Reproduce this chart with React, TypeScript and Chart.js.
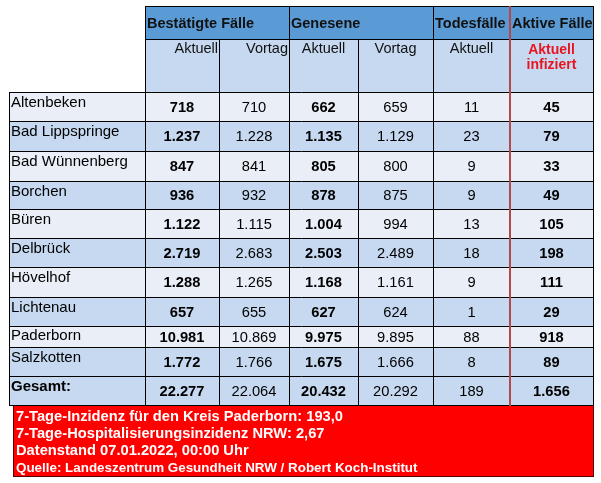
import React, { useEffect, useRef } from "react";
import { Chart, registerables } from "chart.js";
Chart.register(...registerables);

const municipalities = ["Altenbeken", "Bad Lippspringe", "Bad Wünnenberg", "Borchen", "Büren", "Delbrück", "Hövelhof", "Lichtenau", "Paderborn", "Salzkotten"];
const confirmedNow = [718, 1237, 847, 936, 1122, 2719, 1288, 657, 10981, 1772];
const confirmedPrev = [710, 1228, 841, 932, 1115, 2683, 1265, 655, 10869, 1766];
const recoveredNow = [662, 1135, 805, 878, 1004, 2503, 1168, 627, 9975, 1675];
const recoveredPrev = [659, 1129, 800, 875, 994, 2489, 1161, 624, 9895, 1666];
const deaths = [11, 23, 9, 9, 13, 18, 9, 1, 88, 8];
const activeNow = [45, 79, 33, 49, 105, 198, 111, 29, 918, 89];
const totalLabel = "Gesamt:";
const totals = [22277, 22064, 20432, 20292, 189, 1656];
const groupHeaders = ["Bestätigte Fälle", "Genesene", "Todesfälle", "Aktive Fälle"];
const subHeaders = ["Aktuell", "Vortag", "Aktuell", "Vortag", "Aktuell", "Aktuell|infiziert"];
const footerLines = [
  "7-Tage-Inzidenz für den Kreis Paderborn: 193,0",
  "7-Tage-Hospitalisierungsinzidenz NRW: 2,67",
  "Datenstand 07.01.2022, 00:00 Uhr",
  "Quelle: Landeszentrum Gesundheit NRW / Robert Koch-Institut",
];

// layout (scale units = pixels of the 601x483 canvas)
const COL_EDGES = [9, 145, 219, 289, 358, 433, 510, 593];
const HEAD_EDGES = [6, 39, 92];
const ROW_HEIGHTS = [29, 30, 30, 28, 29, 29, 30, 29, 21, 29, 29];
const FOOTER = { x0: 13, x1: 594, y0: 405, y1: 477 };
const FOOTER_BASELINES = [421, 438, 455, 472];
const BOLD_COLS = [true, false, true, false, false, true];
const FONT = '"Liberation Sans", Arial, sans-serif';

const fmt = (n: number) => String(n).replace(/\B(?=(\d{3})+(?!\d))/g, ".");

const tablePlugin = {
  id: "tablePlugin",
  afterDraw(chart: any) {
    const ctx = chart.ctx as CanvasRenderingContext2D;
    const sx = chart.scales.x;
    const sy = chart.scales.y;
    const X = (v: number) => sx.getPixelForValue(v);
    const Y = (v: number) => sy.getPixelForValue(v);
    const cx = COL_EDGES.map(X);
    const rowEdges = [HEAD_EDGES[2]];
    ROW_HEIGHTS.forEach((h) => rowEdges.push(rowEdges[rowEdges.length - 1] + h));
    const ry = rowEdges.map(Y);
    const hy = HEAD_EDGES.map(Y);
    const bottom = ry[ry.length - 1];
    const left = cx[0];
    const right = cx[cx.length - 1];
    const crisp = (v: number) => Math.round(v) + 0.5;

    ctx.save();
    // header fills
    ctx.fillStyle = "#5B9BD5";
    ctx.fillRect(cx[1], hy[0], right - cx[1], hy[1] - hy[0]);
    ctx.fillStyle = "#C6D9F1";
    ctx.fillRect(cx[1], hy[1], right - cx[1], hy[2] - hy[1]);

    // row fills
    const nRows = municipalities.length + 1;
    for (let i = 0; i < nRows; i++) {
      const blue = i === nRows - 1 || i % 2 === 1;
      ctx.fillStyle = blue ? "#C6D9F1" : "#E9EEF7";
      ctx.fillRect(left, ry[i], right - left, ry[i + 1] - ry[i]);
    }

    // footer
    ctx.fillStyle = "#FF0000";
    ctx.fillRect(X(FOOTER.x0), Y(FOOTER.y0), X(FOOTER.x1) - X(FOOTER.x0), Y(FOOTER.y1) - Y(FOOTER.y0));
    ctx.strokeStyle = "#5a0000";
    ctx.lineWidth = 1;
    ctx.strokeRect(crisp(X(FOOTER.x0)), crisp(Y(FOOTER.y0)), Math.round(X(FOOTER.x1) - X(FOOTER.x0)) - 1, Math.round(Y(FOOTER.y1) - Y(FOOTER.y0)) - 1);

    // grid lines
    ctx.strokeStyle = "#000";
    ctx.lineWidth = 1;
    const hline = (y: number, x0: number, x1: number) => {
      ctx.beginPath();
      ctx.moveTo(x0, crisp(y));
      ctx.lineTo(x1, crisp(y));
      ctx.stroke();
    };
    const vline = (x: number, y0: number, y1: number) => {
      ctx.beginPath();
      ctx.moveTo(crisp(x), y0);
      ctx.lineTo(crisp(x), y1);
      ctx.stroke();
    };
    hline(hy[0], cx[1], right + 1);
    hline(hy[1], cx[1], right + 1);
    ry.forEach((y) => hline(y, left, right + 1));
    vline(left, ry[0], bottom + 1);
    vline(cx[1], hy[0], bottom + 1);
    vline(cx[2], hy[1], bottom + 1);
    vline(cx[3], hy[0], bottom + 1);
    vline(cx[4], hy[1], bottom + 1);
    vline(cx[5], hy[0], bottom + 1);
    vline(right, hy[0], bottom + 1);
    ctx.strokeStyle = "#B5484A";
    ctx.lineWidth = 2;
    ctx.beginPath();
    ctx.moveTo(Math.round(cx[6]), hy[0]);
    ctx.lineTo(Math.round(cx[6]), bottom + 1);
    ctx.stroke();

    // group headers
    ctx.fillStyle = "#111";
    ctx.textBaseline = "alphabetic";
    ctx.textAlign = "left";
    ctx.font = `bold 14.5px ${FONT}`;
    const groupStarts = [cx[1], cx[3], cx[5], cx[6]];
    groupHeaders.forEach((g, i) => {
      ctx.fillText(g, groupStarts[i] + 2, hy[0] + 22);
    });

    // sub headers
    ctx.font = `14.5px ${FONT}`;
    subHeaders.forEach((s, i) => {
      const x0 = cx[i + 1];
      const x1 = cx[i + 2];
      if (i < 2) {
        ctx.textAlign = "right";
        ctx.fillStyle = "#111";
        ctx.fillText(s, x1 - 1, hy[1] + 14);
      } else if (i < 5) {
        ctx.textAlign = "center";
        ctx.fillStyle = "#111";
        ctx.fillText(s, (x0 + x1) / 2, hy[1] + 14);
      } else {
        ctx.textAlign = "center";
        ctx.fillStyle = "#E8141E";
        ctx.font = `bold 14px ${FONT}`;
        s.split("|").forEach((line, k) => ctx.fillText(line, (x0 + x1) / 2, hy[1] + 15 + k * 15));
      }
    });

    // data rows
    ctx.fillStyle = "#000";
    for (let i = 0; i < nRows; i++) {
      const isTotal = i === nRows - 1;
      const label = isTotal ? totalLabel : municipalities[i];
      const vals = isTotal
        ? totals
        : [confirmedNow[i], confirmedPrev[i], recoveredNow[i], recoveredPrev[i], deaths[i], activeNow[i]];
      ctx.textAlign = "left";
      ctx.textBaseline = "alphabetic";
      ctx.font = `${isTotal ? "bold " : ""}15px ${FONT}`;
      ctx.fillText(label, left + 2, Math.min(ry[i] + 15, ry[i + 1] - 7));
      ctx.textAlign = "center";
      ctx.textBaseline = "middle";
      vals.forEach((v, j) => {
        ctx.font = `${BOLD_COLS[j] ? "bold " : ""}14.7px ${FONT}`;
        ctx.fillText(fmt(v), (cx[j + 1] + cx[j + 2]) / 2, (ry[i] + ry[i + 1]) / 2 + 1);
      });
    }

    // footer text
    ctx.fillStyle = "#FFFFFF";
    ctx.textAlign = "left";
    ctx.textBaseline = "alphabetic";
    footerLines.forEach((line, k) => {
      ctx.font = k === 3 ? `bold 13.4px ${FONT}` : `bold 14.7px ${FONT}`;
      ctx.fillText(line, X(FOOTER.x0 + 3), Y(FOOTER_BASELINES[k]));
    });
    ctx.restore();
  },
};

export default function App() {
  const ref = useRef<HTMLCanvasElement | null>(null);
  useEffect(() => {
    if (!ref.current) return;
    const chart = new Chart(ref.current, {
      type: "scatter",
      data: { datasets: [{ data: [] }] },
      options: {
        animation: false,
        responsive: false,
        devicePixelRatio: 1,
        layout: { padding: 0 },
        plugins: { legend: { display: false }, tooltip: { enabled: false } },
        scales: {
          x: { type: "linear", min: 0, max: 601, display: false },
          y: { type: "linear", min: 0, max: 483, reverse: true, display: false },
        },
      },
      plugins: [tablePlugin],
    });
    return () => chart.destroy();
  }, []);
  return (
    <div style={{ position: "absolute", left: 0, top: 0, width: 601, height: 483, background: "#fff" }}>
      <canvas ref={ref} width={601} height={483} />
    </div>
  );
}
